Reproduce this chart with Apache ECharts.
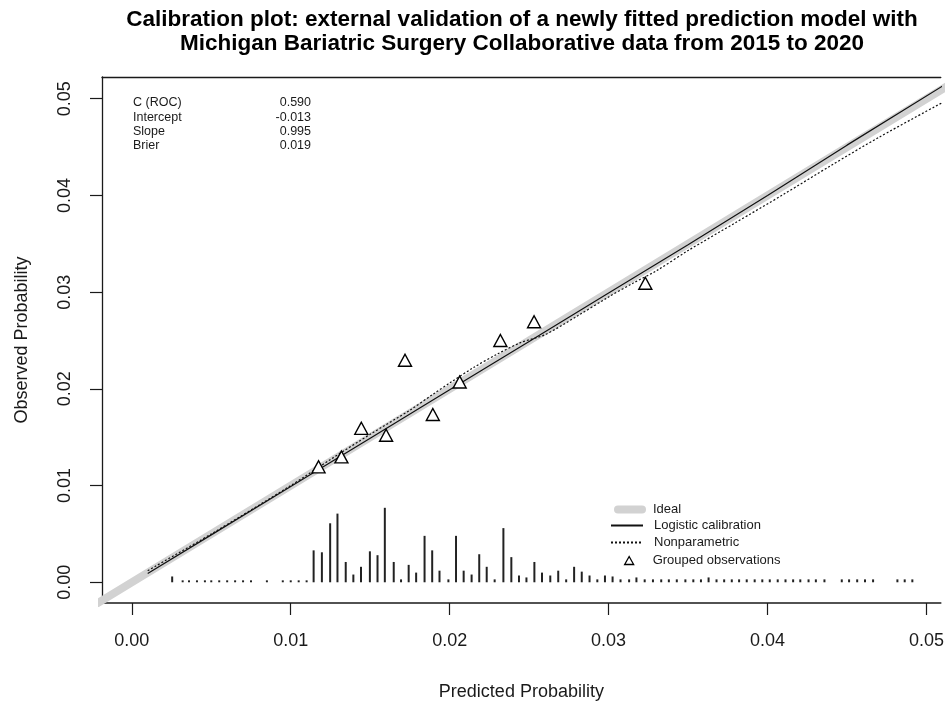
<!DOCTYPE html>
<html>
<head>
<meta charset="utf-8">
<script src="https://cdn.jsdelivr.net/npm/echarts@6/dist/echarts.min.js"></script>
<style>
html,body{margin:0;padding:0;background:#fff;}
#chart{width:947px;height:706px;}
</style>
</head>
<body>
<div id="chart"></div>
<script>
// ---- data ----
var titleLines = ["Calibration plot: external validation of a newly fitted prediction model with",
                  "Michigan Bariatric Surgery Collaborative data from 2015 to 2020"];
var xTicks = [0.00, 0.01, 0.02, 0.03, 0.04, 0.05];
var yTicks = [0.00, 0.01, 0.02, 0.03, 0.04, 0.05];
var statNames = ["C (ROC)", "Intercept", "Slope", "Brier"];
var statValues = ["0.590", "-0.013", "0.995", "0.019"];
var legendNames = ["Ideal", "Logistic calibration", "Nonparametric", "Grouped observations"];

var idealX = [-0.003, 0.053];
var idealY = [-0.003, 0.053];

var logisticX = [0.001, 0.005, 0.010, 0.015, 0.020, 0.025, 0.030, 0.035, 0.040, 0.045, 0.051];
var logisticY = [0.0009, 0.0049, 0.0099, 0.0149, 0.0199, 0.0249, 0.0299, 0.0349, 0.0400, 0.0452, 0.0513];

var nonparX = [0.001, 0.005, 0.010, 0.0125, 0.015, 0.0175, 0.019, 0.020, 0.0215, 0.023, 0.0245, 0.026, 0.028, 0.030, 0.0315, 0.033, 0.035, 0.038, 0.041, 0.044, 0.047, 0.051];
var nonparY = [0.0012, 0.0050, 0.0100, 0.0127, 0.0153, 0.0178, 0.0195, 0.0206, 0.0222, 0.0236, 0.0248, 0.0256, 0.0275, 0.0295, 0.0309, 0.0322, 0.0343, 0.0372, 0.0401, 0.0431, 0.0460, 0.0496];

var groupX = [0.01175, 0.01319, 0.01444, 0.01600, 0.01719, 0.01894, 0.02063, 0.02319, 0.02531, 0.03231];
var groupY = [0.01194, 0.01296, 0.01592, 0.01520, 0.02296, 0.01735, 0.02071, 0.02500, 0.02694, 0.03092];

var spikeX = [0.00254, 0.0032, 0.0036, 0.0041, 0.0046, 0.0050, 0.0055, 0.0060, 0.0065, 0.0070, 0.0075, 0.0085, 0.0095, 0.0100, 0.0105, 0.0110,
  0.01144, 0.01196, 0.01248, 0.01294, 0.01346, 0.01394, 0.01442, 0.01498, 0.01546, 0.01592, 0.01648, 0.01694, 0.01742, 0.01789,
  0.01842, 0.0189, 0.01936, 0.01992, 0.0204, 0.02088, 0.02138, 0.02186, 0.02233, 0.02283, 0.02338, 0.02388, 0.02436, 0.02483,
  0.02533, 0.02581, 0.02633, 0.02683, 0.02733, 0.02783, 0.02831, 0.0288, 0.02929, 0.02977, 0.03025, 0.03075, 0.03129, 0.03175,
  0.03227, 0.03279, 0.03331, 0.03379, 0.03429, 0.03483, 0.03533, 0.03581, 0.03629, 0.03679, 0.03727, 0.03775, 0.03821, 0.03869,
  0.03919, 0.03967, 0.04014, 0.04064, 0.04113, 0.04161, 0.04206, 0.04258, 0.04304, 0.04358, 0.04467, 0.04513, 0.04564, 0.04613,
  0.04664, 0.04817, 0.04863, 0.04911];
var spikeH = [0.0006, 0.0002, 0.0002, 0.0002, 0.0002, 0.0002, 0.0002, 0.0002, 0.0002, 0.0002, 0.0002, 0.0002, 0.0002, 0.0002, 0.0002, 0.0002,
  0.0033, 0.0031, 0.0061, 0.0071, 0.0021, 0.0008, 0.0016, 0.0032, 0.0028, 0.0077, 0.0021, 0.0003, 0.0018, 0.0010,
  0.0048, 0.0033, 0.0012, 0.0003, 0.0048, 0.0012, 0.0008, 0.0029, 0.0016, 0.0003, 0.0056, 0.0026, 0.0007, 0.0005,
  0.0021, 0.0010, 0.0007, 0.0012, 0.0003, 0.0016, 0.0011, 0.0007, 0.0003, 0.0007, 0.0006, 0.0003, 0.0003, 0.0005,
  0.0003, 0.0003, 0.0003, 0.0003, 0.0003, 0.0003, 0.0003, 0.0003, 0.0005, 0.0003, 0.0003, 0.0003, 0.0003, 0.0003,
  0.0003, 0.0003, 0.0003, 0.0003, 0.0003, 0.0003, 0.0003, 0.0003, 0.0003, 0.0003, 0.0003, 0.0003, 0.0003, 0.0003,
  0.0003, 0.0003, 0.0003, 0.0003];

// ---- chart ----
function zip(a, b) { return a.map(function (v, i) { return [v, b[i]]; }); }
var FONT = "Liberation Sans, Arial, Helvetica, sans-serif";
var INK = "#1a1a1a";

var chart = echarts.init(document.getElementById('chart'), null, {renderer: 'canvas'});

var statGraphics = [];
statNames.forEach(function (n, i) {
  statGraphics.push({type: 'text', x: 133, y: 103 + i * 14.3,
    style: {text: n, font: '12.5px ' + FONT, fill: INK, textVerticalAlign: 'middle'}});
  statGraphics.push({type: 'text', x: 311, y: 103 + i * 14.3,
    style: {text: statValues[i], font: '12.5px ' + FONT, fill: INK, textAlign: 'right', textVerticalAlign: 'middle'}});
});
titleLines.forEach(function (t, i) {
  statGraphics.push({type: 'text', x: 522, y: 20 + i * 24,
    style: {text: t, font: 'bold 22.5px ' + FONT, fill: '#000', textAlign: 'center', textVerticalAlign: 'middle'}});
});

function legendAt(name, top, left, extra) {
  var l = {
    data: [name], top: top, left: left, orient: 'vertical', padding: 0,
    itemWidth: 32, itemHeight: 12, selectedMode: false,
    itemStyle: {opacity: 0, borderWidth: 0},
    textStyle: {fontFamily: FONT, fontSize: 13, color: INK, padding: [0, 0, 0, 6]}
  };
  for (var k in extra) l[k] = extra[k];
  return l;
}

var option = {
  animation: false,
  backgroundColor: '#fff',
  graphic: statGraphics,
  legend: [
    legendAt(legendNames[0], 503, 614, {itemWidth: 24, lineStyle: {width: 8, cap: 'round', color: '#d2d2d2'},
      textStyle: {fontFamily: FONT, fontSize: 13, color: INK, padding: [0, 0, 0, 6]}}),
    legendAt(legendNames[1], 519, 610, {}),
    legendAt(legendNames[2], 536, 610, {}),
    legendAt(legendNames[3], 554, 624, {itemWidth: 9, itemHeight: 8, itemStyle: {color: '#fff', borderColor: '#000', borderWidth: 1.3},
      textStyle: {fontFamily: FONT, fontSize: 13, color: INK, padding: [0, 0, 0, 14]}})
  ],
  grid: {left: 102, right: 0, top: 77, bottom: 96, containLabel: false},
  xAxis: [{
    type: 'value', min: -0.001875, max: 0.0509,
    axisLine: {show: true, onZero: false, lineStyle: {color: INK, width: 1.6}},
    axisTick: {show: true, inside: false, length: 12, customValues: xTicks, lineStyle: {color: INK, width: 1.2}},
    axisLabel: {show: true, customValues: xTicks, margin: 29, fontFamily: FONT, fontSize: 18, color: INK,
      formatter: function (v) { return v.toFixed(2); }},
    splitLine: {show: false},
    name: 'Predicted Probability', nameLocation: 'middle', nameGap: 80,
    nameTextStyle: {fontFamily: FONT, fontSize: 18, color: INK}
  }, {
    type: 'value', position: 'top', min: -0.001875, max: 0.0509,
    axisLine: {show: true, onZero: false, lineStyle: {color: INK, width: 1.3}},
    axisTick: {show: false}, axisLabel: {show: false}, splitLine: {show: false}
  }],
  yAxis: {
    type: 'value', min: -0.002143, max: 0.052245,
    axisLine: {show: true, onZero: false, lineStyle: {color: INK, width: 1.3}},
    axisTick: {show: true, inside: false, length: 12, customValues: yTicks, lineStyle: {color: INK, width: 1.2}},
    axisLabel: {show: true, customValues: yTicks, rotate: 90, margin: 28, fontFamily: FONT, fontSize: 18, color: INK,
      formatter: function (v) { return v.toFixed(2); }},
    splitLine: {show: false},
    name: 'Observed Probability', nameLocation: 'middle', nameGap: 71,
    nameTextStyle: {fontFamily: FONT, fontSize: 18, color: INK}
  },
  series: [
    {
      name: legendNames[0], type: 'line', data: zip(idealX, idealY), showSymbol: false, symbol: 'none',
      lineStyle: {color: '#d2d2d2', width: 8, cap: 'round'}, itemStyle: {color: '#d2d2d2'}, z: 1, silent: true
    },
    {
      name: 'spikes', type: 'bar', data: zip(spikeX, spikeH), barWidth: 2,
      itemStyle: {color: '#222'}, z: 2, silent: true
    },
    {
      name: legendNames[1], type: 'line', data: zip(logisticX, logisticY), showSymbol: false, symbol: 'none',
      lineStyle: {color: '#111', width: 1.2}, itemStyle: {color: '#111'}, z: 3
    },
    {
      name: legendNames[2], type: 'line', data: zip(nonparX, nonparY), showSymbol: false, symbol: 'none', smooth: 0.3,
      lineStyle: {color: '#111', width: 1.2, type: [2, 2]}, itemStyle: {color: '#111'}, z: 3
    },
    {
      name: legendNames[3], type: 'scatter', data: zip(groupX, groupY), symbol: 'triangle', symbolSize: [13, 12],
      itemStyle: {color: '#fff', borderColor: '#000', borderWidth: 1.4, opacity: 1}, z: 5
    }
  ]
};
chart.setOption(option);
</script>
</body>
</html>
